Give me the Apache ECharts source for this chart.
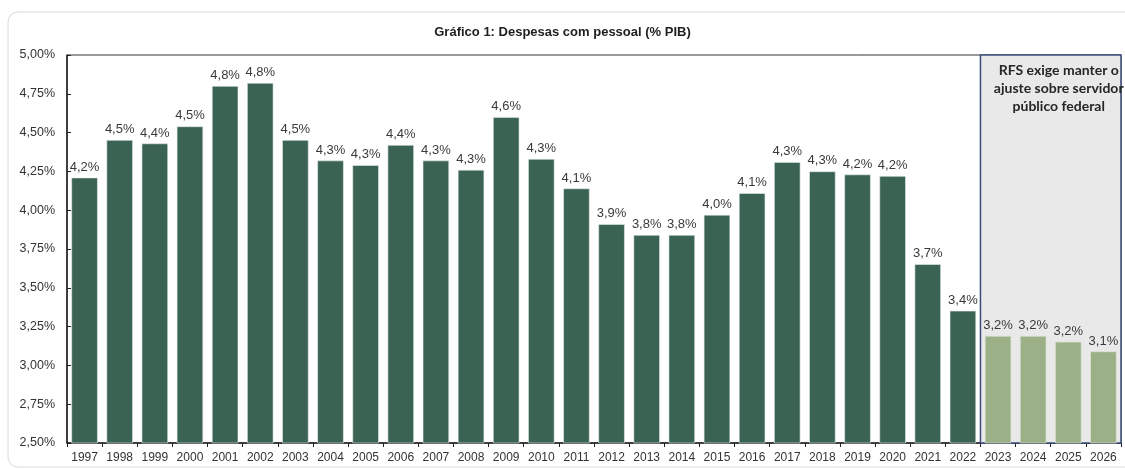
<!DOCTYPE html>
<html>
<head>
<meta charset="utf-8">
<script src="https://cdn.jsdelivr.net/npm/echarts@6/dist/echarts.min.js"></script>
<style>
  html, body { margin: 0; padding: 0; background: #ffffff; }
  #chart { width: 1125px; height: 470px; }
</style>
</head>
<body>
<div id="chart"></div>
<script>
// Despesas com pessoal (% do PIB), 1997–2022 realizado, 2023–2026 projeção
const years = ['1997','1998','1999','2000','2001','2002','2003','2004','2005','2006',
  '2007','2008','2009','2010','2011','2012','2013','2014','2015','2016',
  '2017','2018','2019','2020','2021','2022','2023','2024','2025','2026'];

const realizado = [4.21, 4.452, 4.43, 4.54, 4.80, 4.82, 4.452, 4.32, 4.29, 4.42,
  4.32, 4.26, 4.60, 4.33, 4.14, 3.91, 3.84, 3.84, 3.97, 4.11,
  4.31, 4.25, 4.23, 4.22, 3.652, 3.352];

const projecao = [3.19, 3.19, 3.152, 3.09];

const yTicks = { min: 2.5, max: 5.0, interval: 0.25 };

const boxText = 'RFS exige manter o\najuste sobre servidor\npúblico federal';
const chartTitle = 'Gráfico 1: Despesas com pessoal (% PIB)';

const nHist = realizado.length;
const histData = years.map((y, i) => (i < nHist ? realizado[i] : '-'));
const projData = years.map((y, i) => (i >= nHist ? projecao[i - nHist] : '-'));

const pct1 = v => v.toFixed(1).replace('.', ',') + '%';
const pct2 = v => v.toFixed(2).replace('.', ',') + '%';

const chart = echarts.init(document.getElementById('chart'), null, { renderer: 'canvas' });

const labelStyle = {
  show: true,
  position: 'top',
  distance: 4,
  color: '#3a3a3a',
  fontFamily: 'Liberation Sans, Arial, sans-serif',
  fontSize: 13,
  formatter: p => pct1(p.value)
};

chart.setOption({
  animation: false,
  backgroundColor: '#ffffff',
  title: {
    text: chartTitle,
    left: 'center',
    top: 21,
    textStyle: {
      fontFamily: 'Liberation Sans, Arial, sans-serif',
      fontSize: 13,
      fontWeight: 'bold',
      color: '#1e1e1e'
    }
  },
  grid: {
    left: 67, right: 4, top: 55, bottom: 27,
    show: true,
    borderColor: '#333333',
    borderWidth: 1,
    backgroundColor: 'transparent'
  },
  xAxis: {
    type: 'category',
    data: years,
    axisLine: { lineStyle: { color: '#222222', width: 1.5 } },
    axisTick: { show: true, interval: 0, length: 4, lineStyle: { color: '#222222' } },
    axisLabel: {
      interval: 0,
      margin: 9,
      color: '#333333',
      fontFamily: 'Liberation Sans, Arial, sans-serif',
      fontSize: 12
    }
  },
  yAxis: {
    type: 'value',
    min: yTicks.min,
    max: yTicks.max,
    interval: yTicks.interval,
    splitLine: { show: false },
    axisLine: { show: true, lineStyle: { color: '#222222', width: 1.5 } },
    axisTick: { show: true, inside: true, length: 4, lineStyle: { color: '#222222' } },
    axisLabel: {
      margin: 12,
      color: '#333333',
      fontFamily: 'Liberation Sans, Arial, sans-serif',
      fontSize: 12.5,
      formatter: v => pct2(v)
    }
  },
  series: [
    {
      name: 'Realizado',
      type: 'bar',
      data: histData,
      barWidth: '75%',
      barGap: '-100%',
      z: 3,
      itemStyle: { color: '#3b6353', borderColor: '#e4ece8', borderWidth: 0.6 },
      label: labelStyle
    },
    {
      name: 'Projeção',
      type: 'bar',
      data: projData,
      barWidth: '75%',
      barGap: '-100%',
      z: 3,
      itemStyle: { color: '#9cb087', borderColor: '#dfe6d8', borderWidth: 0.6 },
      label: labelStyle
    }
  ]
});

// Shaded projection panel spanning the 2023–2026 category bands
const c0 = chart.convertToPixel({ xAxisIndex: 0 }, years[nHist]);
const c1 = chart.convertToPixel({ xAxisIndex: 0 }, years[years.length - 1]);
const cPrev = chart.convertToPixel({ xAxisIndex: 0 }, years[nHist - 1]);
const band = c0 - cPrev;
const boxLeft = c0 - band / 2;
const boxRight = c1 + band / 2;
const boxTop = chart.convertToPixel({ yAxisIndex: 0 }, yTicks.max);
const boxBottom = chart.convertToPixel({ yAxisIndex: 0 }, yTicks.min);

chart.setOption({
  graphic: [
    {
      type: 'rect',
      z: -10,
      silent: true,
      shape: { x: 8, y: 12, width: 1140, height: 455, r: 10 },
      style: { fill: 'none', stroke: '#dadada', lineWidth: 1 }
    },
    {
      type: 'rect',
      z: 1,
      silent: true,
      shape: { x: boxLeft, y: boxTop, width: boxRight - boxLeft, height: boxBottom - boxTop },
      style: { fill: '#e9e9e9', stroke: '#3b4c78', lineWidth: 1.5 }
    },
    {
      type: 'text',
      z: 10,
      silent: true,
      x: (boxLeft + boxRight) / 2 + 8,
      y: boxTop + 6,
      style: {
        text: boxText,
        align: 'center',
        verticalAlign: 'top',
        lineHeight: 18,
        fontFamily: 'Lato, Open Sans, sans-serif',
        fontWeight: 'bold',
        fontSize: 14,
        fill: '#262626'
      }
    }
  ]
});
</script>
</body>
</html>
